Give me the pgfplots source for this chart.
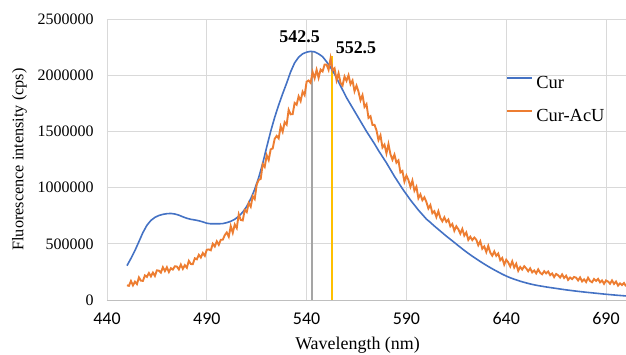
\documentclass[border=0pt]{standalone}
\usepackage{pgfplots}
\pgfplotsset{compat=1.18}
\usepackage{fontspec}
\setmainfont{Liberation Serif}
\newfontfamily\carlito{Carlito}
\definecolor{cblue}{HTML}{4472C4}
\definecolor{corange}{HTML}{ED7D31}
\definecolor{cgray}{HTML}{A5A5A5}
\definecolor{cgold}{HTML}{FFC000}
\definecolor{cgrid}{HTML}{D9D9D9}
\definecolor{caxis}{HTML}{BFBFBF}
\begin{document}
\begin{tikzpicture}
\path[use as bounding box] (-107bp,-55bp) rectangle (519bp,300bp);
\begin{axis}[
  at={(0,0)}, anchor=south west,
  width=519bp, height=281bp, scale only axis,
  xmin=440, xmax=700, ymin=0, ymax=2500000,
  axis lines*=left,
  axis line style={-},
  x axis line style={caxis, line width=0.9bp},
  y axis line style={draw=none},
  xtick={440,490,...,690},
  ytick={0,500000,1000000,1500000,2000000,2500000},
  major tick length=0pt,
  grid=major,
  major grid style={cgrid, line width=0.9bp},
  scaled y ticks=false,
  /pgf/number format/assume math mode=true,
  yticklabel style={/pgf/number format/fixed, /pgf/number format/1000 sep={}, font=\fontsize{16}{16}\selectfont, xshift=-10bp},
  xticklabel style={/pgf/number format/1000 sep={}, font=\carlito\fontsize{18}{18}\selectfont, yshift=-9bp},
  xlabel={Wavelength (nm)},
  ylabel={Fluorescence intensity (cps)},
  xlabel style={at={(axis description cs:0.4827,-0.1762)}, anchor=base, font=\fontsize{18}{18}\selectfont},
  ylabel style={at={(axis description cs:-0.1609,0.5)}, anchor=base, font=\fontsize{16.3}{18}\selectfont},
  legend style={at={(axis cs:640,1994700)}, anchor=north west, draw=none, fill=none, inner sep=0pt,
    row sep=16.5bp, column sep=3bp, font=\fontsize{18.5}{20}\selectfont,
    nodes={inner sep=0bp, text height=12.5bp, text depth=4bp}},
  legend cell align=left,
  legend image code/.code={\draw[#1] (0bp,6bp) -- (25bp,6bp);},
]
\addplot[cgray, line width=2bp, forget plot] coordinates {(542.5,0) (542.5,2212000)};
\addplot[cgold, line width=2bp, forget plot] coordinates {(552.5,0) (552.5,2175000)};
\addplot[cblue, line width=1.6bp] table {
x y
450 305000
452 370000
454 440000
456 520000
458 600000
460 665000
462 708000
464 735000
466 752000
468 762000
470 768000
472 770000
474 765000
476 755000
478 740000
480 727000
482 718000
484 712000
486 705000
488 695000
490 683000
492 678000
494 678000
496 678000
498 680000
500 688000
502 700000
504 718000
506 745000
508 782000
510 832000
512 900000
514 985000
516 1090000
518 1215000
520 1360000
522 1500000
524 1625000
526 1735000
528 1835000
530 1930000
532 2030000
534 2110000
536 2160000
538 2190000
540 2205000
542 2212000
544 2208000
546 2190000
548 2165000
550 2120000
552 2070000
554 2010000
556 1940000
558 1870000
560 1800000
562 1740000
564 1680000
566 1620000
568 1560000
570 1500000
572 1445000
574 1390000
576 1330000
578 1275000
580 1220000
582 1160000
584 1100000
586 1045000
588 990000
590 940000
592 890000
594 845000
596 800000
598 760000
600 720000
602 690000
604 658000
606 628000
608 598000
610 568000
612 540000
614 512000
616 483000
618 455000
620 428000
622 402000
624 378000
626 354000
628 331000
630 309000
632 288000
634 268000
636 249000
638 230000
640 213000
642 198000
644 185000
646 173000
648 162000
650 152000
652 143000
654 135000
656 128000
658 122000
660 116000
665 103000
670 90000
675 79000
680 69000
685 60000
690 51000
695 43000
700 36000
};
\addlegendentry{Cur}
\addplot[corange, line width=1.9bp] table {
x y
450 130000
451 126000
452 169000
453 130000
454 163000
455 141000
456 201000
457 172000
458 170000
459 219000
460 206000
461 240000
462 210000
463 244000
464 214000
465 264000
466 261000
467 244000
468 292000
469 257000
470 291000
471 249000
472 283000
473 271000
474 300000
475 298000
476 272000
477 315000
478 277000
479 310000
480 287000
481 348000
482 320000
483 319000
484 371000
485 362000
486 402000
487 378000
488 418000
489 393000
490 447000
491 450000
492 442000
493 500000
494 476000
495 522000
496 491000
497 536000
498 536000
499 577000
500 601000
501 563000
502 657000
503 598000
504 672000
505 640000
506 762000
507 712000
508 708000
509 801000
510 782000
511 862000
512 830000
513 923000
514 898000
515 1027000
516 1068000
517 1077000
518 1208000
519 1183000
520 1288000
521 1245000
522 1340000
523 1348000
524 1434000
525 1460000
526 1438000
527 1545000
528 1497000
529 1582000
530 1560000
531 1692000
532 1652000
533 1653000
534 1753000
535 1737000
536 1812000
537 1770000
538 1853000
539 1823000
540 1942000
541 1953000
542 1932000
543 2028000
544 1973000
545 2048000
546 1977000
547 2050000
548 2033000
549 2094000
550 2095000
551 2048000
552 2150000
553 2042000
554 2062000
555 1955000
556 2017000
557 1932000
558 1908000
559 1988000
560 1950000
561 2000000
562 1920000
563 1953000
564 1858000
565 1907000
566 1853000
567 1777000
568 1823000
569 1718000
570 1743000
571 1620000
572 1635000
573 1558000
574 1559000
575 1510000
576 1423000
577 1465000
578 1357000
579 1382000
580 1305000
581 1387000
582 1297000
583 1248000
584 1293000
585 1222000
586 1242000
587 1135000
588 1148000
589 1053000
590 1107000
591 1068000
592 1007000
593 1063000
594 973000
595 1008000
596 905000
597 940000
598 888000
599 914000
600 872000
601 814000
602 845000
603 773000
604 790000
605 738000
606 790000
607 730000
608 700000
609 736000
610 695000
611 716000
612 656000
613 676000
614 616000
615 656000
616 630000
617 590000
618 632000
619 573000
620 601000
621 535000
622 563000
623 533000
624 555000
625 537000
626 487000
627 523000
628 456000
629 477000
630 427000
631 481000
632 422000
633 394000
634 432000
635 393000
636 414000
637 354000
638 374000
639 315000
640 358000
641 335000
642 298000
643 344000
644 289000
645 322000
646 260000
647 294000
648 271000
649 300000
650 282000
651 256000
652 282000
653 246000
654 263000
655 237000
656 273000
657 242000
658 229000
659 256000
660 237000
661 254000
662 221000
663 236000
664 204000
665 232000
666 220000
667 200000
668 228000
669 196000
670 216000
671 179000
672 200000
673 186000
674 205000
675 199000
676 174000
677 201000
678 166000
679 184000
680 160000
681 198000
682 169000
683 158000
684 187000
685 170000
686 188000
687 157000
688 174000
689 144000
690 174000
691 164000
692 145000
693 174000
694 143000
695 164000
696 128000
697 148000
698 133000
699 151000
700 122000
};
\addlegendentry{Cur-AcU}
\node[font=\bfseries\fontsize{18}{18}\selectfont] at (axis cs:536.5,2340000) {542.5};
\node[font=\bfseries\fontsize{18}{18}\selectfont] at (axis cs:564.75,2242000) {552.5};
\end{axis}
\end{tikzpicture}
\end{document}
